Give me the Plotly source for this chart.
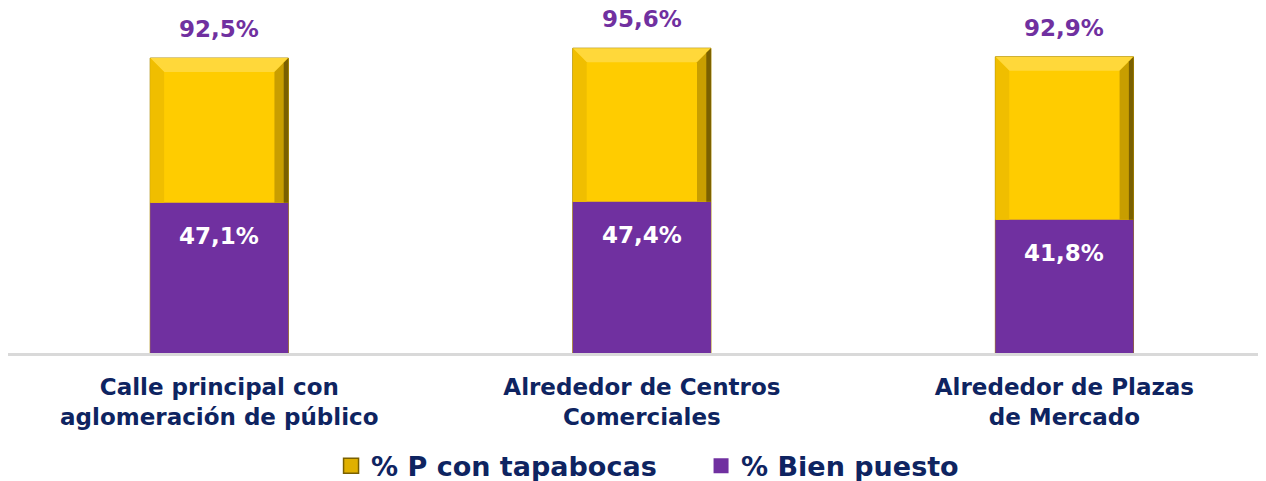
import plotly.graph_objects as go

categorias = ["Calle principal con<br>aglomeración de público",
              "Alrededor de Centros<br>Comerciales",
              "Alrededor de Plazas<br>de Mercado"]
con_tapabocas = [92.5, 95.6, 92.9]
bien_puesto = [47.1, 47.4, 41.8]

def pct(v):
    return "{:.1f}%".format(v).replace(".", ",")

amarillo = "#FFCC00"
morado = "#7030A0"
azul = "#0E2461"
fuente = "DejaVu Sans"
ancho = 0.327

x = list(range(len(categorias)))

fig = go.Figure()
fig.add_trace(go.Bar(x=x, y=con_tapabocas, name="% P con tapabocas", width=ancho, showlegend=False,
                     marker=dict(color=amarillo, line=dict(color="#A88700", width=1))))
fig.add_trace(go.Bar(x=x, y=bien_puesto, name="% Bien puesto", width=ancho, showlegend=False,
                     marker=dict(color=morado, line=dict(width=0))))

# entradas de leyenda con cuadros más grandes
fig.add_trace(go.Scatter(x=[None], y=[None], mode="markers", name="% P con tapabocas",
                         marker=dict(symbol="square", size=15, color="#E0B000",
                                     line=dict(color="#7A6000", width=1.5))))
fig.add_trace(go.Scatter(x=[None], y=[None], mode="markers", name="% Bien puesto",
                         marker=dict(symbol="square", size=15, color=morado, line=dict(width=0))))

# bisel de las barras amarillas (bordes superior, izquierdo y derecho)
bx, by = 0.033, 4.4
for i in x:
    x0, x1 = i - ancho / 2, i + ancho / 2
    top = con_tapabocas[i]
    base = bien_puesto[i]
    fig.add_shape(type="path", layer="above", line=dict(width=0), fillcolor="#FFD83A",
                  path=f"M {x0},{top} L {x1},{top} L {x1-bx},{top-by} L {x0+bx},{top-by} Z")
    fig.add_shape(type="path", layer="above", line=dict(width=0), fillcolor="#F0BE00",
                  path=f"M {x0},{top} L {x0+bx},{top-by} L {x0+bx},{base} L {x0},{base} Z")
    fig.add_shape(type="path", layer="above", line=dict(width=0), fillcolor="#C89E00",
                  path=f"M {x1},{top} L {x1-bx},{top-by} L {x1-bx},{base} L {x1},{base} Z")
    fig.add_shape(type="path", layer="above", line=dict(width=0), fillcolor="#7A6000",
                  path=f"M {x1},{top} L {x1-bx/3},{top-by/3} L {x1-bx/3},{base} L {x1},{base} Z")

for i in x:
    fig.add_annotation(x=i, y=con_tapabocas[i], text=pct(con_tapabocas[i]), showarrow=False,
                       yshift=29, font=dict(family=fuente, size=23, color=morado, weight="bold"))
    fig.add_annotation(x=i, y=bien_puesto[i], text=pct(bien_puesto[i]), showarrow=False,
                       yshift=-33, font=dict(family=fuente, size=23, color="white", weight="bold"))

# la página pone 8 px de margen al cuerpo: la figura se dibuja desplazada (8, 8)
fig.update_layout(
    width=1258, height=473,
    barmode="overlay",
    plot_bgcolor="white", paper_bgcolor="white",
    margin=dict(l=0, r=0, t=0, b=128, autoexpand=False),
    showlegend=True,
    legend=dict(orientation="h", x=0.2568, xanchor="left", y=-0.328, yanchor="middle",
                font=dict(family=fuente, size=27, color=azul, weight="bold"),
                itemsizing="trace", itemwidth=30, entrywidth=325),
    xaxis=dict(tickmode="array", tickvals=x, ticktext=categorias, range=[-0.5, 2.477],
               showline=True, linecolor="#D9D9D9", linewidth=3, ticks="", showgrid=False,
               automargin=False, ticklabelstandoff=11,
               tickfont=dict(family=fuente, size=23, color=azul, weight="bold")),
    yaxis=dict(range=[0, 108.2], visible=False, showgrid=False, zeroline=False, automargin=False),
)

fig.write_html("out.html")
